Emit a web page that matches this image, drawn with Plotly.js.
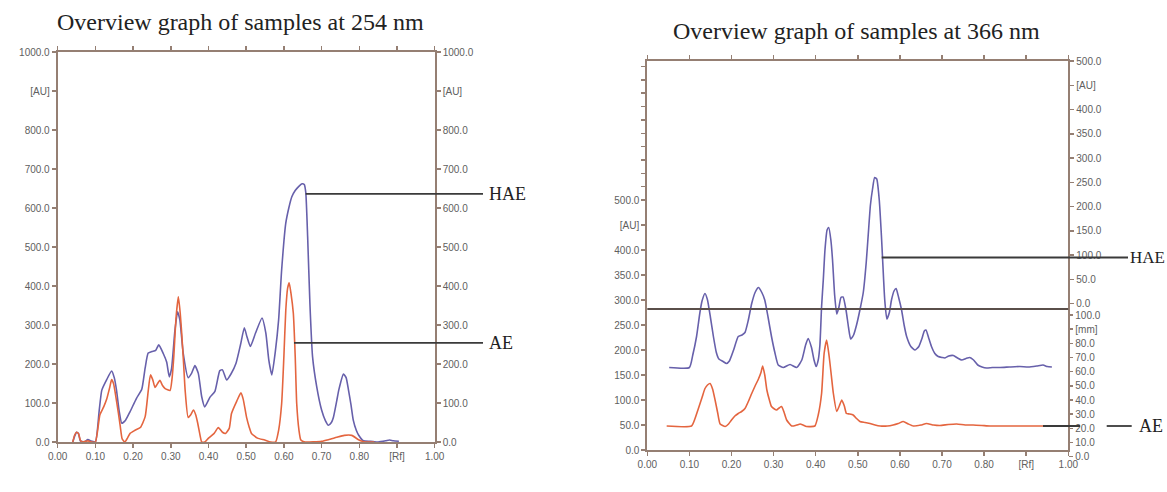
<!DOCTYPE html>
<html>
<head>
<meta charset="utf-8">
<script src="https://cdn.plot.ly/plotly-3.0.1.min.js"></script>
<style>html,body{margin:0;padding:0;background:#fff;}#chart{width:1167px;height:492px;}</style>
</head>
<body>
<div id="chart"></div>
<script>
// ---------- DATA ----------
// 254 nm panel
const rf254Hae = [0.040,0.045,0.050,0.055,0.060,0.070,0.080,0.090,0.100,0.110,0.117,0.130,0.143,0.150,0.156,0.163,0.170,0.180,0.192,0.209,0.223,0.232,0.240,0.250,0.260,0.268,0.280,0.289,0.296,0.302,0.311,0.318,0.324,0.333,0.346,0.355,0.364,0.373,0.382,0.390,0.404,0.417,0.430,0.437,0.448,0.460,0.473,0.485,0.495,0.502,0.511,0.525,0.542,0.552,0.560,0.568,0.577,0.586,0.594,0.605,0.613,0.621,0.630,0.639,0.648,0.654,0.658,0.663,0.669,0.676,0.687,0.700,0.710,0.718,0.726,0.731,0.740,0.746,0.758,0.765,0.771,0.778,0.784,0.792,0.798,0.811,0.830,0.850,0.870,0.880,0.890,0.905];
const au254Hae = [0,15,25,22,3,0,6,2,0,80,133,160,182,165,133,80,48,56,78,112,135,190,228,232,235,249,227,205,167,188,287,334,313,227,165,176,196,176,116,90,115,130,183,185,159,175,202,250,293,270,245,280,318,280,210,172,230,313,441,561,600,629,645,655,662,660,640,526,355,219,142,82,55,43,50,62,105,135,174,165,135,95,56,30,18,3,2,0,3,5,3,2];
const rf254Ae = [0.040,0.045,0.050,0.055,0.060,0.065,0.080,0.090,0.100,0.112,0.122,0.130,0.138,0.143,0.148,0.152,0.161,0.166,0.171,0.178,0.185,0.192,0.205,0.220,0.232,0.240,0.246,0.252,0.258,0.265,0.271,0.278,0.285,0.298,0.303,0.308,0.314,0.320,0.325,0.329,0.334,0.338,0.346,0.353,0.360,0.366,0.371,0.378,0.382,0.390,0.400,0.415,0.426,0.437,0.445,0.455,0.461,0.475,0.486,0.492,0.501,0.508,0.514,0.530,0.549,0.565,0.578,0.586,0.594,0.600,0.605,0.610,0.614,0.619,0.625,0.630,0.634,0.640,0.645,0.656,0.700,0.718,0.740,0.760,0.780,0.798,0.815,0.840];
const au254Ae = [0,18,25,22,5,0,3,0,0,70,90,110,140,160,150,130,74,40,8,0,10,22,30,38,65,130,172,160,140,150,158,145,137,132,160,220,320,372,330,278,200,133,63,70,82,70,50,15,0,0,10,22,37,25,22,35,73,105,126,110,63,38,22,10,5,0,0,30,98,220,338,395,408,380,330,220,98,30,5,0,2,6,12,17,17,6,0,0];

// 366 nm panel
const rf366Hae = [0.052,0.100,0.108,0.117,0.125,0.130,0.137,0.143,0.150,0.157,0.164,0.170,0.180,0.188,0.195,0.205,0.216,0.225,0.232,0.240,0.248,0.256,0.264,0.272,0.279,0.287,0.295,0.303,0.311,0.323,0.339,0.355,0.367,0.376,0.382,0.390,0.396,0.401,0.406,0.410,0.414,0.418,0.422,0.427,0.431,0.436,0.440,0.445,0.450,0.455,0.460,0.465,0.472,0.478,0.483,0.490,0.497,0.505,0.513,0.520,0.525,0.530,0.535,0.540,0.545,0.551,0.556,0.559,0.564,0.569,0.575,0.580,0.586,0.591,0.597,0.604,0.610,0.616,0.626,0.636,0.645,0.652,0.658,0.662,0.668,0.675,0.683,0.691,0.700,0.707,0.716,0.727,0.737,0.747,0.757,0.766,0.775,0.785,0.795,0.806,0.820,0.838,0.860,0.885,0.905,0.925,0.940,0.950,0.961];
const au366Hae = [165,165,190,227,275,298,313,300,265,227,195,182,177,173,178,200,227,230,235,260,293,315,325,315,300,265,227,195,170,165,171,165,180,210,223,205,180,167,180,210,287,340,400,440,445,420,380,310,272,285,305,306,280,245,222,230,250,280,315,375,433,490,522,545,542,500,430,380,300,262,275,300,318,323,305,280,250,227,207,200,207,222,238,240,225,207,193,187,185,184,188,189,184,180,183,185,180,170,166,164,165,165,166,167,166,168,170,167,166];
const rf366Ae = [0.046,0.105,0.113,0.121,0.130,0.137,0.143,0.149,0.155,0.161,0.167,0.173,0.185,0.193,0.200,0.208,0.216,0.224,0.232,0.240,0.248,0.256,0.264,0.270,0.274,0.279,0.284,0.290,0.295,0.302,0.307,0.313,0.319,0.325,0.331,0.343,0.355,0.363,0.370,0.378,0.398,0.406,0.414,0.420,0.426,0.432,0.437,0.442,0.450,0.456,0.462,0.468,0.473,0.480,0.489,0.497,0.505,0.517,0.529,0.541,0.553,0.570,0.584,0.596,0.608,0.620,0.632,0.650,0.663,0.680,0.695,0.715,0.735,0.755,0.774,0.795,0.814,0.850,0.885,0.915,0.940];
const au366Ae = [48,48,62,82,105,123,130,133,122,100,75,52,47,52,60,68,73,77,83,97,113,128,142,155,168,150,120,100,87,82,80,84,87,75,60,48,50,52,50,47,48,70,113,193,220,187,150,113,77,88,100,88,73,72,70,63,57,55,53,50,48,48,50,53,57,52,48,50,53,50,49,51,52,50,50,49,48,48,48,48,48];

// tick labels
const xTickVals = [0,0.1,0.2,0.3,0.4,0.5,0.6,0.7,0.8,0.9,1.0];
const xTickText = ['0.00','0.10','0.20','0.30','0.40','0.50','0.60','0.70','0.80','[Rf]','1.00'];
const y254TickVals = [0,100,200,300,400,500,600,700,800,900,1000];
const y254TickText = ['0.0','100.0','200.0','300.0','400.0','500.0','600.0','700.0','800.0','[AU]','1000.0'];
const y366TickVals = [0,50,100,150,200,250,300,350,400,450,500];
const y366TickText = ['0.0','50.0','100.0','150.0','200.0','250.0','300.0','350.0','400.0','[AU]','500.0'];
const mmTickVals = [0,10,20,30,40,50,60,70,80,90,100];
const mmTickText = ['0.0','10.0','20.0','30.0','40.0','50.0','60.0','70.0','80.0','[mm]','100.0'];

// ---------- LAYOUT ----------
const W = 1167, H = 492;
const px = v => v / W;
const py = v => (H - v) / H;
const axisColor = '#957f73';
const tickFont = {family: 'Liberation Sans, Arial, sans-serif', size: 10, color: '#606060'};
const blue = '#6760ab', red = '#e4653f';

// left-axis extra (unlabelled) ticks above 500 in the 366 panel
const y3Vals = y366TickVals.slice(), y3Text = y366TickText.slice();
for (let k = 1; k <= 10; k++) { y3Vals.push(500 + k * 26.7); y3Text.push(''); }

function baseAxis(extra) {
  return Object.assign({
    showgrid: false, zeroline: false, showline: true, linecolor: axisColor, linewidth: 2,
    ticks: 'outside', ticklen: 4, tickwidth: 1.5, tickcolor: axisColor,
    tickmode: 'array', tickfont: tickFont, fixedrange: true
  }, extra);
}

const traces = [
  {x: rf254Hae, y: au254Hae, xaxis: 'x', yaxis: 'y', type: 'scatter', mode: 'lines',
   line: {color: blue, width: 1.6, shape: 'spline', smoothing: 0.5}, hoverinfo: 'skip'},
  {x: rf254Ae, y: au254Ae, xaxis: 'x', yaxis: 'y', type: 'scatter', mode: 'lines',
   line: {color: red, width: 1.6, shape: 'spline', smoothing: 0.5}, hoverinfo: 'skip'},
  {x: [], y: [], xaxis: 'x', yaxis: 'y2', type: 'scatter', mode: 'lines', hoverinfo: 'skip'},
  {x: rf366Hae, y: au366Hae, xaxis: 'x2', yaxis: 'y3', type: 'scatter', mode: 'lines',
   line: {color: blue, width: 1.6, shape: 'spline', smoothing: 0.5}, hoverinfo: 'skip'},
  {x: rf366Ae, y: au366Ae, xaxis: 'x2', yaxis: 'y3', type: 'scatter', mode: 'lines',
   line: {color: red, width: 1.6, shape: 'spline', smoothing: 0.5}, hoverinfo: 'skip'},
  {x: [], y: [], xaxis: 'x2', yaxis: 'y4', type: 'scatter', mode: 'lines', hoverinfo: 'skip'},
  {x: [], y: [], xaxis: 'x2', yaxis: 'y5', type: 'scatter', mode: 'lines', hoverinfo: 'skip'}
];

const lineStyle = {color: '#3a3a3a', width: 1.8};
const serif = 'Liberation Serif, Times New Roman, serif';
const layout = {
  width: W, height: H, margin: {l: 0, r: 0, t: 0, b: 0},
  paper_bgcolor: '#ffffff', plot_bgcolor: 'rgba(0,0,0,0)', showlegend: false,
  xaxis: baseAxis({domain: [px(57.7), px(434.7)], anchor: 'y', range: [0, 1], tickvals: xTickVals, ticktext: xTickText, mirror: 'ticks'}),
  yaxis: baseAxis({domain: [py(442), py(52)], anchor: 'x', range: [0, 1000], tickvals: y254TickVals, ticktext: y254TickText}),
  yaxis2: baseAxis({overlaying: 'y', side: 'right', anchor: 'x', range: [0, 1000], tickvals: y254TickVals, ticktext: y254TickText}),
  xaxis2: baseAxis({domain: [px(647.3), px(1068.3)], anchor: 'y3', range: [0, 1], tickvals: xTickVals, ticktext: xTickText, mirror: 'ticks'}),
  yaxis3: baseAxis({domain: [py(450), py(61)], anchor: 'x2', range: [0, 778], tickvals: y3Vals, ticktext: y3Text}),
  yaxis4: baseAxis({overlaying: 'y3', side: 'right', anchor: 'x2', range: [-302, 500], tickvals: y366TickVals, ticktext: y366TickText}),
  yaxis5: baseAxis({domain: [py(456.7), py(315)], anchor: 'x2', side: 'right', range: [0, 100], tickvals: mmTickVals, ticktext: mmTickText, showline: false}),
  shapes: [
    {type: 'line', xref: 'paper', yref: 'y', x0: px(305.7), x1: px(483), y0: 636, y1: 636, line: lineStyle},
    {type: 'line', xref: 'paper', yref: 'y', x0: px(294), x1: px(483), y0: 254, y1: 254, line: lineStyle},
    {type: 'line', xref: 'x2 domain', yref: 'y3', x0: 0, x1: 1, y0: 282, y1: 282, line: {color: '#5a4f4a', width: 1.8}},
    {type: 'line', xref: 'paper', yref: 'y3', x0: px(881.7), x1: px(1128), y0: 385, y1: 385, line: lineStyle},
    {type: 'line', xref: 'paper', yref: 'y3', x0: px(1043), x1: px(1080), y0: 48, y1: 48, line: lineStyle},
    {type: 'line', xref: 'paper', yref: 'y3', x0: px(1106.7), x1: px(1131.7), y0: 48, y1: 48, line: lineStyle}
  ],
  annotations: [
    {text: 'Overview graph of samples at 254 nm', xref: 'paper', yref: 'paper', x: px(55), y: py(22), xanchor: 'left', yanchor: 'middle', showarrow: false,
     font: {family: serif, size: 24, color: '#222'}},
    {text: 'Overview graph of samples at 366 nm', xref: 'paper', yref: 'paper', x: px(671), y: py(31), xanchor: 'left', yanchor: 'middle', showarrow: false,
     font: {family: serif, size: 24, color: '#222'}},
    {text: 'HAE', xref: 'paper', yref: 'y', x: px(487), y: 636, xanchor: 'left', yanchor: 'middle', showarrow: false,
     font: {family: serif, size: 18, color: '#222'}},
    {text: 'AE', xref: 'paper', yref: 'y', x: px(487), y: 254, xanchor: 'left', yanchor: 'middle', showarrow: false,
     font: {family: serif, size: 18, color: '#222'}},
    {text: 'HAE', xref: 'paper', yref: 'y3', x: px(1128), y: 385, xanchor: 'left', yanchor: 'middle', showarrow: false,
     font: {family: serif, size: 17, color: '#222'}},
    {text: 'AE', xref: 'paper', yref: 'y3', x: px(1137), y: 48, xanchor: 'left', yanchor: 'middle', showarrow: false,
     font: {family: serif, size: 18, color: '#222'}}
  ]
};

Plotly.newPlot('chart', traces, layout, {staticPlot: true, displayModeBar: false});
</script>
</body>
</html>
